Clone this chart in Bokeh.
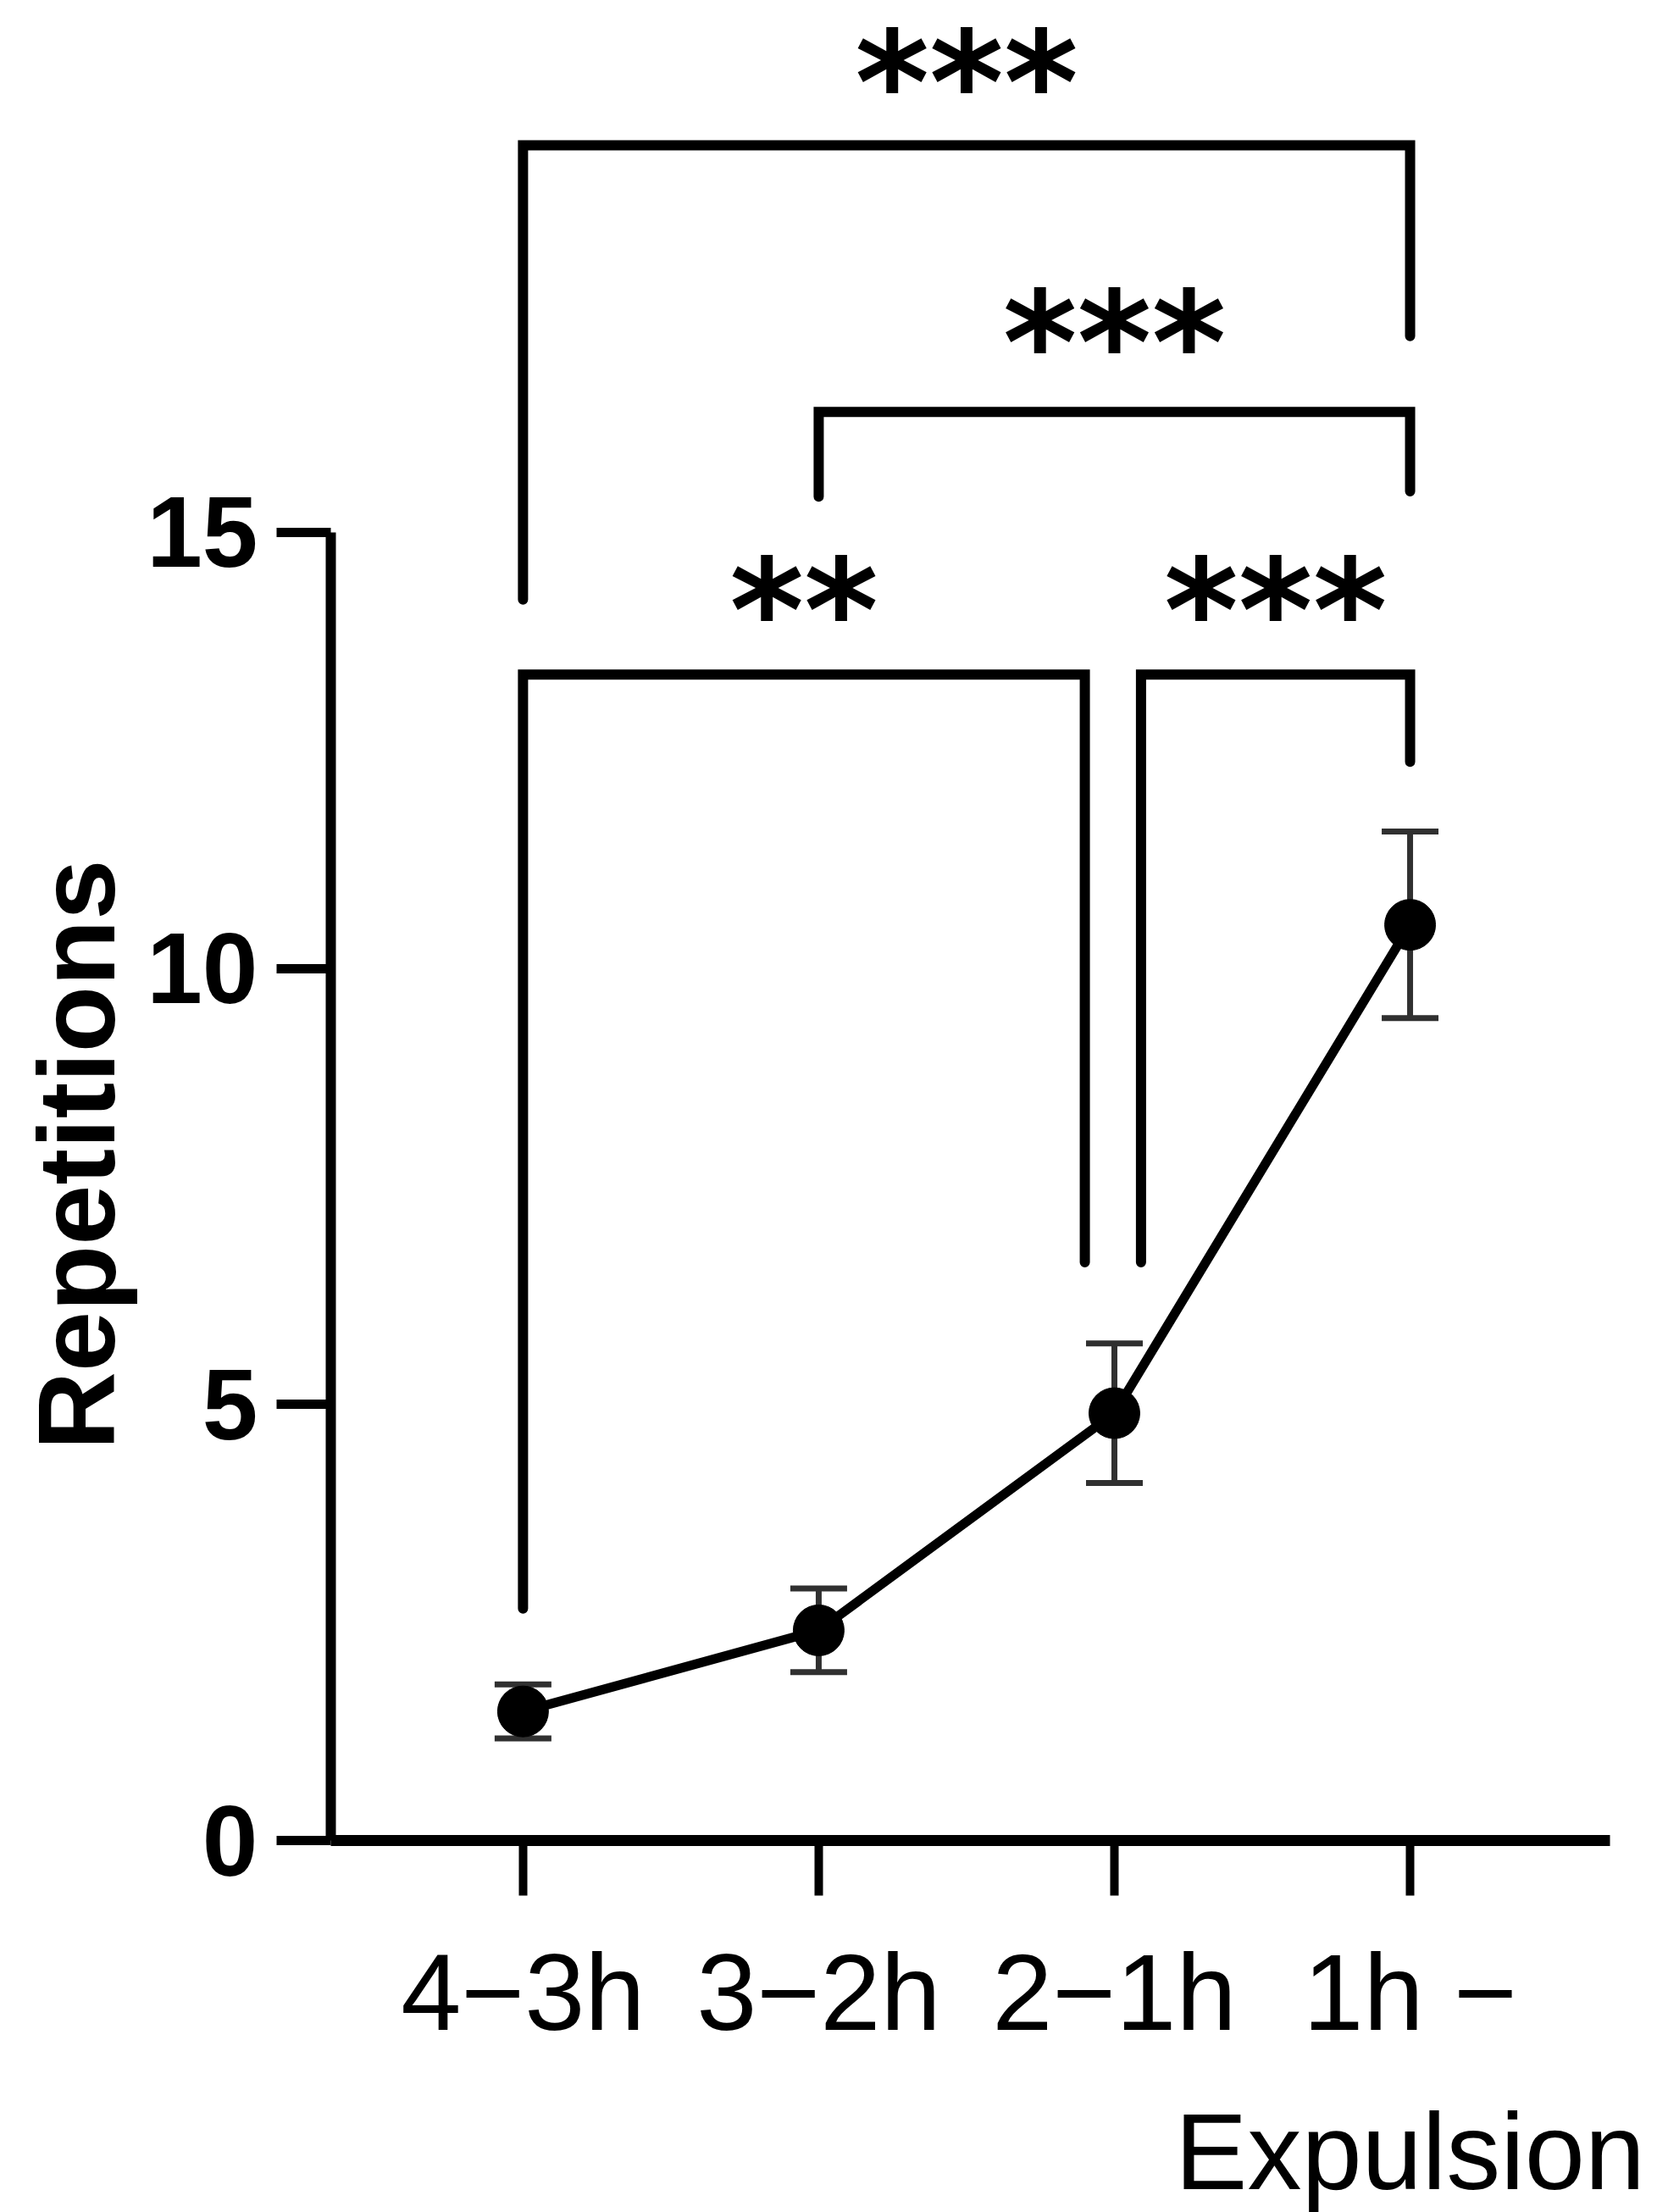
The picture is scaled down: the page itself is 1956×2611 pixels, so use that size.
from bokeh.plotting import figure
from bokeh.models import FixedTicker, Whisker, TeeHead, ColumnDataSource, Range1d, Title
from bokeh.embed import file_html
from bokeh.resources import INLINE
from bokeh.core.properties import value

# ---- data ----
categories = ["4\u22123h", "3\u22122h", "2\u22121h", "1h \u2212\nExpulsion"]
means = [1.48, 2.41, 4.90, 10.50]
sem = [0.31, 0.48, 0.80, 1.07]
y_ticks = [0, 5, 10, 15]
y_title = "Repetitions"

# significance brackets (positions on category axis, heights in data units)
cmp_left = [0.0, 1.0, 0.0, 2.09]
cmp_right = [3.0, 3.0, 1.9, 3.0]
cmp_top = [19.44, 16.38, 13.37, 13.37]
cmp_left_end = [14.23, 15.41, 2.66, 6.63]
cmp_right_end = [17.25, 15.47, 6.63, 12.37]
cmp_label = ["***", "***", "**", "***"]
cmp_label_y = [20.40, 17.41, 14.34, 14.34]

FONT = "Liberation Sans"
xpos = list(range(len(categories)))

p = figure(
    frame_width=1510, frame_height=2172,
    x_range=Range1d(-0.650, 3.676), y_range=Range1d(0, 21.10),
    output_backend="svg", toolbar_location=None,
    min_border_left=390, min_border_right=48, min_border_top=0, min_border_bottom=420,
)
p.outline_line_color = None
p.grid.visible = False
p.background_fill_color = "white"
p.border_fill_color = "white"

# x axis
xa = p.xaxis[0]
xa.ticker = FixedTicker(ticks=xpos)
xa.major_label_overrides = {i: c for i, c in zip(xpos, categories)}
xa.axis_line_width = 13
xa.axis_line_color = "black"
xa.major_tick_line_width = 10
xa.major_tick_line_color = "black"
xa.major_tick_out = 65
xa.major_tick_in = 0
xa.minor_tick_line_color = None
xa.major_label_standoff = 42
xa.major_label_text_font = FONT
xa.major_label_text_font_size = "128px"
xa.major_label_text_color = "black"
xa.major_label_text_line_height = 1.32

# y axis
ya = p.yaxis[0]
ya.ticker = FixedTicker(ticks=y_ticks)
ya.bounds = (0, 15)
ya.axis_line_width = 12
ya.axis_line_color = "black"
ya.major_tick_line_width = 11
ya.major_tick_line_color = "black"
ya.major_tick_out = 64
ya.major_tick_in = 0
ya.minor_tick_line_color = None
ya.major_label_standoff = 22
ya.major_label_text_font = FONT
ya.major_label_text_font_style = "bold"
ya.major_label_text_font_size = "118px"
ya.major_label_text_color = "black"

# y axis title, placed along the 0-15 span of the axis
p.add_layout(Title(text=y_title, align="left", offset=461, standoff=18,
                   text_font=FONT, text_font_style="bold", text_font_size="128px",
                   text_color="black"), "left")

# error bars
src = ColumnDataSource(dict(
    x=xpos, y=means,
    upper=[m + s for m, s in zip(means, sem)],
    lower=[m - s for m, s in zip(means, sem)],
))
ecol = "#303030"
w = Whisker(source=src, base="x", upper="upper", lower="lower",
            line_width=7, line_color=ecol, level="underlay",
            upper_head=TeeHead(size=67, line_width=7, line_color=ecol),
            lower_head=TeeHead(size=67, line_width=7, line_color=ecol))
p.add_layout(w)

p.line("x", "y", source=src, line_width=11, line_color="black")
p.scatter("x", "y", source=src, size=60, fill_color="black", line_color="black")

# brackets
bx, by = [], []
for l, r, t, le, re in zip(cmp_left, cmp_right, cmp_top, cmp_left_end, cmp_right_end):
    bx.append([l, l, r, r])
    by.append([le, t, t, re])
p.multi_line(bx, by, line_width=12, line_color="black", line_join="miter", line_cap="round")

fs = 168
p.text(x=[(l + r) / 2 for l, r in zip(cmp_left, cmp_right)], y=cmp_label_y, text=cmp_label,
       text_align="center", text_baseline="middle", y_offset=26,
       text_font=value("DejaVu Sans"), text_font_style="bold", text_font_size=f"{fs}px",
       text_color="black")

open("out.html", "w").write(file_html(p, INLINE))
